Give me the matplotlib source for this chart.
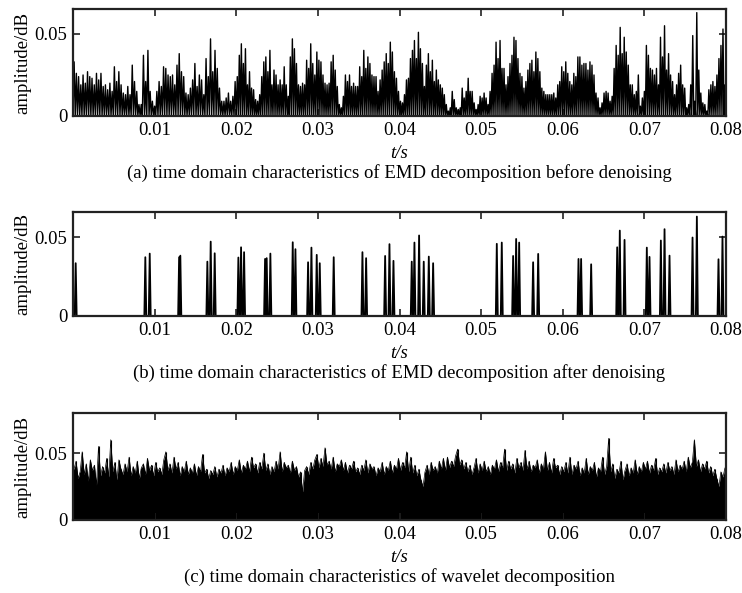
"""
EMD / wavelet denoising - time domain comparison (3 panels)
"""

import numpy as np
import matplotlib
matplotlib.use('Agg')
import matplotlib.pyplot as plt

plt.rcParams['font.family'] = ['Liberation Serif', 'DejaVu Serif']
plt.rcParams['font.size'] = 13.5

# (a) EMD before denoising: peak heights of the rectified signal, per 0.02 s block
before_seg1 = [0.033, 0.026, 0.024, 0.019, 0.025, 0.020, 0.027, 0.024, 0.023, 0.019,
               0.026, 0.022, 0.026, 0.018, 0.019, 0.016, 0.020, 0.015, 0.030, 0.021,
               0.027, 0.019, 0.014, 0.013, 0.018, 0.013, 0.031, 0.021, 0.015, 0.007,
               0.007, 0.037, 0.021, 0.040, 0.015, 0.009, 0.006, 0.015, 0.021, 0.018,
               0.030, 0.029, 0.025, 0.024, 0.025, 0.019, 0.031, 0.038, 0.027, 0.024,
               0.014, 0.013, 0.017, 0.022, 0.032, 0.018, 0.025, 0.022, 0.013, 0.035,
               0.024, 0.047, 0.027, 0.040, 0.029, 0.017, 0.009, 0.009, 0.011, 0.014,
               0.009, 0.012, 0.021]
before_seg2 = [0.024, 0.037, 0.044, 0.032, 0.041, 0.019, 0.027, 0.017, 0.016, 0.010,
               0.009, 0.013, 0.024, 0.033, 0.036, 0.027, 0.040, 0.019, 0.028, 0.025,
               0.019, 0.022, 0.019, 0.030, 0.019, 0.012, 0.036, 0.047, 0.041, 0.032,
               0.019, 0.018, 0.020, 0.019, 0.034, 0.029, 0.044, 0.032, 0.025, 0.039,
               0.034, 0.033, 0.025, 0.020, 0.019, 0.020, 0.033, 0.037, 0.028, 0.018,
               0.007, 0.005, 0.012, 0.025, 0.021, 0.025, 0.018, 0.020, 0.018, 0.018,
               0.030, 0.024, 0.040, 0.029, 0.036, 0.032, 0.025, 0.024, 0.024, 0.015,
               0.022, 0.028, 0.033, 0.038, 0.032, 0.045, 0.039, 0.027, 0.023, 0.015]
before_seg3 = [0.009, 0.008, 0.013, 0.022, 0.023, 0.035, 0.040, 0.046, 0.035, 0.051,
               0.041, 0.032, 0.018, 0.031, 0.038, 0.027, 0.034, 0.021, 0.028, 0.022,
               0.019, 0.017, 0.013, 0.007, 0.003, 0.005, 0.015, 0.010, 0.005, 0.004,
               0.005, 0.017, 0.011, 0.015, 0.023, 0.015, 0.015, 0.008, 0.004, 0.007,
               0.012, 0.011, 0.014, 0.011, 0.007, 0.015, 0.026, 0.031, 0.045, 0.035,
               0.046, 0.029, 0.029, 0.019, 0.024, 0.032, 0.037, 0.048, 0.046, 0.035,
               0.026, 0.024, 0.017, 0.021, 0.028, 0.032, 0.034, 0.027, 0.039, 0.035,
               0.027, 0.017, 0.015, 0.013, 0.013, 0.013, 0.013, 0.014, 0.011, 0.019,
               0.021, 0.030]
before_seg4 = [0.027, 0.033, 0.026, 0.021, 0.019, 0.026, 0.024, 0.036, 0.036, 0.031,
               0.032, 0.032, 0.028, 0.033, 0.031, 0.025, 0.014, 0.011, 0.005, 0.008,
               0.014, 0.015, 0.014, 0.009, 0.012, 0.029, 0.043, 0.037, 0.054, 0.038,
               0.048, 0.039, 0.031, 0.019, 0.019, 0.013, 0.015, 0.025, 0.006, 0.011,
               0.015, 0.043, 0.037, 0.029, 0.028, 0.025, 0.029, 0.019, 0.048, 0.036,
               0.055, 0.028, 0.038, 0.025, 0.021, 0.013, 0.019, 0.026, 0.031, 0.019,
               0.017, 0.005, 0.007, 0.019, 0.049, 0.009, 0.063, 0.028, 0.014, 0.008,
               0.007, 0.003, 0.016, 0.019, 0.021, 0.018, 0.025, 0.035, 0.043, 0.053,
               0.019]
seg_edges = [0.0, 0.02, 0.04, 0.06, 0.08]

# (b) EMD after denoising: surviving spikes (time, height)
after_t = [0.00033, 0.00886, 0.00940, 0.01300, 0.01315, 0.01646, 0.01687, 0.01736,
           0.02026, 0.02059, 0.02096, 0.02353, 0.02373, 0.02418, 0.02692, 0.02725,
           0.02880, 0.02921, 0.02986, 0.03023, 0.03194, 0.03546, 0.03591, 0.03824,
           0.03877, 0.03926, 0.04150, 0.04183, 0.04240, 0.04297, 0.04359, 0.04412,
           0.05192, 0.05253, 0.05392, 0.05429, 0.05466, 0.05637, 0.05699, 0.06193,
           0.06225, 0.06348, 0.06667, 0.06699, 0.06757, 0.07030, 0.07063, 0.07202,
           0.07247, 0.07308, 0.07590, 0.07643, 0.07908, 0.07957]
after_amp = [0.0335, 0.0373, 0.0396, 0.0373, 0.0383, 0.0345, 0.0472, 0.0398,
             0.0371, 0.0436, 0.0405, 0.0362, 0.0367, 0.0396, 0.0468, 0.0424,
             0.0341, 0.0434, 0.0388, 0.0335, 0.0373, 0.0405, 0.0367, 0.0381,
             0.0456, 0.0350, 0.0345, 0.0466, 0.0511, 0.0345, 0.0377, 0.0335,
             0.0458, 0.0466, 0.0381, 0.0489, 0.0466, 0.0341, 0.0394, 0.0362,
             0.0362, 0.0328, 0.0436, 0.0542, 0.0483, 0.0434, 0.0375, 0.0479,
             0.0551, 0.0383, 0.0498, 0.0631, 0.0360, 0.0504]

# (c) wavelet decomposition: ragged top edge of the dense signal, every 0.25 ms
wavelet_top = [0.038, 0.044, 0.031, 0.036, 0.051, 0.034, 0.042, 0.029, 0.045, 0.037,
               0.041, 0.026, 0.055, 0.033, 0.040, 0.035, 0.046, 0.032, 0.060, 0.036,
               0.043, 0.030, 0.045, 0.038, 0.034, 0.042, 0.036, 0.047, 0.033, 0.040,
               0.035, 0.044, 0.031, 0.039, 0.042, 0.034, 0.046, 0.037, 0.041, 0.033,
               0.043, 0.036, 0.039, 0.034, 0.045, 0.051, 0.037, 0.042, 0.035, 0.047,
               0.038, 0.043, 0.033, 0.040, 0.036, 0.044, 0.034, 0.039, 0.035, 0.042,
               0.033, 0.040, 0.036, 0.049, 0.035, 0.038, 0.031, 0.037, 0.034, 0.040,
               0.032, 0.038, 0.035, 0.041, 0.033, 0.039, 0.036, 0.043, 0.034, 0.040,
               0.037, 0.045, 0.035, 0.041, 0.038, 0.044, 0.036, 0.047, 0.039, 0.042,
               0.035, 0.043, 0.038, 0.050, 0.037, 0.042, 0.034, 0.040, 0.036, 0.044,
               0.038, 0.051, 0.036, 0.043, 0.039, 0.041, 0.035, 0.044, 0.037, 0.040,
               0.032, 0.036, 0.021, 0.037, 0.040, 0.034, 0.043, 0.038, 0.045, 0.049,
               0.039, 0.046, 0.040, 0.054, 0.041, 0.044, 0.038, 0.047, 0.036, 0.042,
               0.040, 0.045, 0.037, 0.043, 0.035, 0.041, 0.038, 0.044, 0.036, 0.039,
               0.034, 0.041, 0.037, 0.045, 0.035, 0.042, 0.038, 0.040, 0.033, 0.039,
               0.036, 0.043, 0.034, 0.040, 0.037, 0.044, 0.035, 0.041, 0.038, 0.046,
               0.037, 0.043, 0.039, 0.051, 0.036, 0.047, 0.035, 0.041, 0.033, 0.038,
               0.030, 0.025, 0.036, 0.041, 0.034, 0.043, 0.037, 0.040, 0.035, 0.044,
               0.038, 0.046, 0.037, 0.047, 0.039, 0.044, 0.040, 0.048, 0.053, 0.041,
               0.045, 0.038, 0.043, 0.036, 0.041, 0.034, 0.039, 0.046, 0.035, 0.042,
               0.037, 0.044, 0.036, 0.040, 0.034, 0.041, 0.038, 0.045, 0.036, 0.043,
               0.039, 0.053, 0.037, 0.044, 0.038, 0.042, 0.035, 0.046, 0.039, 0.043,
               0.037, 0.052, 0.038, 0.044, 0.036, 0.041, 0.039, 0.045, 0.035, 0.042,
               0.038, 0.051, 0.037, 0.043, 0.035, 0.046, 0.039, 0.041, 0.034, 0.040,
               0.036, 0.043, 0.035, 0.047, 0.034, 0.041, 0.038, 0.044, 0.033, 0.039,
               0.035, 0.046, 0.034, 0.040, 0.037, 0.043, 0.032, 0.039, 0.036, 0.047,
               0.034, 0.040, 0.061, 0.036, 0.042, 0.031, 0.038, 0.035, 0.044, 0.030,
               0.037, 0.042, 0.033, 0.039, 0.035, 0.045, 0.034, 0.040, 0.036, 0.043,
               0.038, 0.044, 0.035, 0.041, 0.037, 0.046, 0.034, 0.039, 0.036, 0.042,
               0.035, 0.043, 0.037, 0.040, 0.034, 0.045, 0.036, 0.041, 0.038, 0.044,
               0.036, 0.047, 0.039, 0.043, 0.060, 0.040, 0.045, 0.036, 0.042, 0.038,
               0.044, 0.035, 0.040, 0.033, 0.038, 0.031, 0.025, 0.036, 0.032, 0.039]
wavelet_dt = 0.00025

x_ticks = [0.01, 0.02, 0.03, 0.04, 0.05, 0.06, 0.07, 0.08]
x_tick_labels = ['0.01', '0.02', '0.03', '0.04', '0.05', '0.06', '0.07', '0.08']
y_ticks = [0, 0.05]
y_tick_labels = ['0', '0.05']

captions = [
    '(a) time domain characteristics of EMD decomposition before denoising',
    '(b) time domain characteristics of EMD decomposition after denoising',
    '(c) time domain characteristics of wavelet decomposition',
]

PX = 0.72  # points per pixel at dpi 100


def style_axes(ax, ymax, caption):
    ax.set_xlim(0, 0.08)
    ax.set_ylim(0, ymax)
    ax.set_xticks(x_ticks)
    ax.set_xticklabels(x_tick_labels)
    ax.set_yticks(y_ticks)
    ax.set_yticklabels(y_tick_labels)
    ax.tick_params(direction='in', top=True, right=True, length=5, width=1.2,
                   labelsize=13.5, pad=4, color='#222222')
    for sp in ax.spines.values():
        sp.set_linewidth(1.6)
        sp.set_color('#222222')
    ax.annotate('amplitude/dB', xy=(0, 0.5), xycoords='axes fraction',
                xytext=(-50 * PX, 0), textcoords='offset points',
                rotation=90, ha='center', va='center', fontsize=13.5)
    ax.annotate('t/s', xy=(0.5, 0), xycoords='axes fraction',
                xytext=(0, -37 * PX), textcoords='offset points',
                ha='center', va='center', fontsize=13.5, fontstyle='italic')
    ax.annotate(caption, xy=(0.5, 0), xycoords='axes fraction',
                xytext=(0, -57 * PX), textcoords='offset points',
                ha='center', va='center', fontsize=13.5)


def rectified_line(segments):
    # peaks spread evenly over each block, zero between neighbours
    t_pk, a_pk = [], []
    for (lo, hi), seg in zip(zip(seg_edges[:-1], seg_edges[1:]), segments):
        step = (hi - lo) / len(seg)
        t_pk.extend(lo + step * (np.arange(len(seg)) + 0.5))
        a_pk.extend(seg)
    t_pk = np.array(t_pk)
    a_pk = np.array(a_pk)
    t_val = np.concatenate([[0.0], (t_pk[:-1] + t_pk[1:]) / 2, [0.08]])
    x = np.empty(len(t_pk) * 2 + 1)
    y = np.zeros_like(x)
    x[0::2] = t_val
    x[1::2] = t_pk
    y[1::2] = a_pk
    return x, y


fig = plt.figure(figsize=(7.42, 5.93), dpi=100)
W, H = 742, 593
boxes = [(73, 9, 726, 116), (73, 212, 726, 316), (73, 413, 726, 520)]
axes = [fig.add_axes([l / W, 1 - b / H, (r - l) / W, (b - t) / H]) for l, t, r, b in boxes]

# (a)
x, y = rectified_line([before_seg1, before_seg2, before_seg3, before_seg4])
axes[0].plot(x, y, color='black', lw=1.0)
style_axes(axes[0], 0.0652, captions[0])

# (b)
w = 0.00012
xs, ys = [], []
for t, a in zip(after_t, after_amp):
    xs += [t - w, t, t + w, np.nan]
    ys += [0, a, 0, np.nan]
axes[1].plot(xs, ys, color='black', lw=1.3)
style_axes(axes[1], 0.066, captions[1])

# (c)
tc = np.arange(len(wavelet_top)) * wavelet_dt + wavelet_dt / 2
tc_full = np.concatenate([[0.0], tc, [0.08]])
yc_full = np.concatenate([[wavelet_top[0]], wavelet_top, [wavelet_top[-1]]])
axes[2].fill_between(tc_full, 0, yc_full, color='black', lw=0)
axes[2].plot(tc_full, yc_full, color='black', lw=0.5)
axes[2].vlines(tc, 0, wavelet_top, color='black', lw=0.8)
style_axes(axes[2], 0.08, captions[2])

fig.savefig('out.png', dpi=100)
